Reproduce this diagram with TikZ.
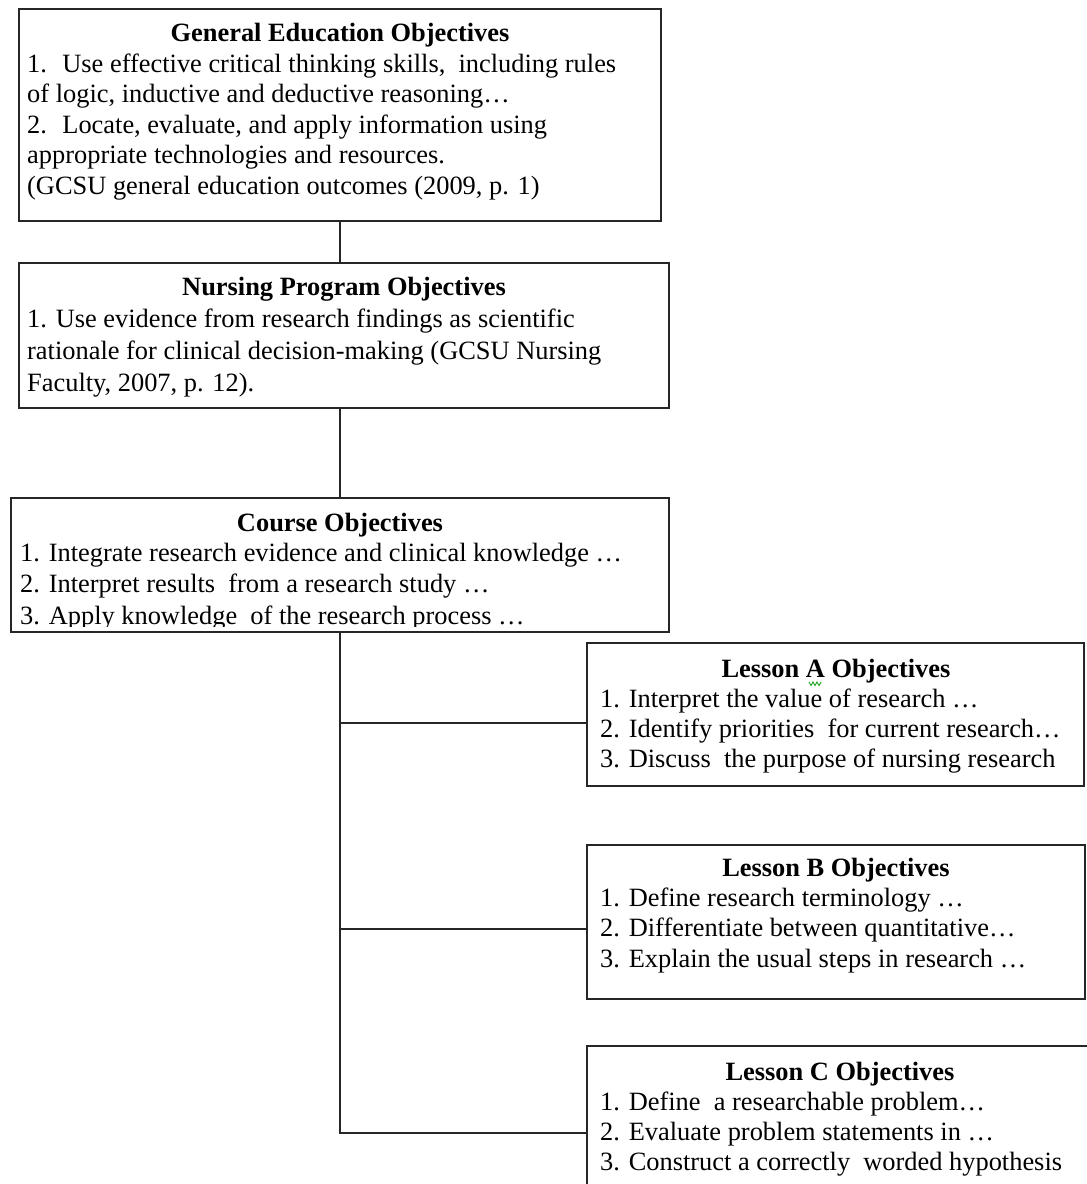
\documentclass[tikz,border=0pt]{standalone}
\usepackage{fontspec}
\setmainfont{Liberation Serif}
\begin{document}
\begin{tikzpicture}[x=1pt,y=-1pt,
  font=\fontsize{26.4pt}{31pt}\selectfont,
  box/.style={draw=black!85, line width=1.6pt, rectangle, inner sep=0pt, outer sep=0pt, anchor=north west, fill=none},
  ttl/.style={anchor=base, inner sep=0pt, font=\fontsize{26.4pt}{31pt}\selectfont\bfseries},
  txt/.style={anchor=base west, inner sep=0pt},
  conn/.style={draw=black!85, line width=1.6pt}]
\useasboundingbox (0,0) rectangle (1087,1184);
\clip (0,0) rectangle (1087,1184);

% boxes
\node[box, minimum width=642pt, minimum height=212pt] (ge) at (19,9) {};
\node[box, minimum width=650pt, minimum height=145pt] (np) at (19,263) {};
\node[box, minimum width=658pt, minimum height=134pt] (co) at (11,498) {};
\node[box, minimum width=497pt, minimum height=143pt] (la) at (587,643) {};
\node[box, minimum width=498pt, minimum height=154pt] (lb) at (587,845) {};
\node[box, minimum width=540pt, minimum height=200pt] (lc) at (587,1046) {};

% General Education
\node[ttl] (ge-t) at (340,41) {General Education Objectives};
\node[txt] (ge-1) at (27,72) {1.~ Use effective critical thinking skills,~ including rules};
\node[txt] (ge-2) at (27,102.5) {of logic, inductive and deductive reasoning…};
\node[txt] (ge-3) at (27,133) {2.~ Locate, evaluate, and apply information using};
\node[txt] (ge-4) at (27,163.5) {appropriate technologies and resources.};
\node[txt] (ge-5) at (27,194) {(GCSU general education outcomes (2009, p. 1)};

% Nursing Program
\node[ttl] (np-t) at (344,295) {Nursing Program Objectives};
\node[txt] (np-1) at (27,327) {1. Use evidence from research findings as scientific};
\node[txt] (np-2) at (27,359) {rationale for clinical decision-making (GCSU Nursing};
\node[txt] (np-3) at (27,391) {Faculty, 2007, p. 12).};

% Course
\node[ttl] (co-t) at (340,531) {Course Objectives};
\node[txt] (co-1) at (20,561) {1. Integrate research evidence and clinical knowledge …};
\node[txt] (co-2) at (20,592) {2. Interpret results~ from a research study …};
\begin{scope}
  \clip (11,498) rectangle (669,626);
  \node[txt] (co-3) at (20,624) {3. Apply knowledge~ of the research process …};
\end{scope}

% Lesson A
\node[ttl] (la-t) at (836,677) {Lesson A Objectives};
\node[txt] (la-1) at (600,707) {1. Interpret the value of research …};
\node[txt] (la-2) at (600,737) {2. Identify priorities~ for current research…};
\node[txt] (la-3) at (600,767) {3. Discuss~ the purpose of nursing research};
\draw[green!60!black, line width=0.8pt] (809,682) -- (811,685.5) -- (813,682) -- (815,685.5) -- (817,682) -- (819,685.5) -- (821,682);

% Lesson B
\node[ttl] (lb-t) at (836,876) {Lesson B Objectives};
\node[txt] (lb-1) at (600,906) {1. Define research terminology …};
\node[txt] (lb-2) at (600,936) {2. Differentiate between quantitative…};
\node[txt] (lb-3) at (600,967) {3. Explain the usual steps in research …};

% Lesson C
\node[ttl] (lc-t) at (840,1080) {Lesson C Objectives};
\node[txt] (lc-1) at (600,1110) {1. Define~ a researchable problem…};
\node[txt] (lc-2) at (600,1140) {2. Evaluate problem statements in …};
\node[txt] (lc-3) at (600,1170) {3. Construct a correctly~ worded hypothesis};

% connectors
\coordinate (hA) at (0,723);
\coordinate (hB) at (0,929);
\coordinate (hC) at (0,1133);
\draw[conn] (ge.south) -- (ge.south |- np.north);
\draw[conn] (ge.south |- np.south) -- (ge.south |- co.north);
\draw[conn] (co.south) -- (co.south |- hC) -- (lc.west |- hC);
\draw[conn] (co.south |- hA) -- (la.west |- hA);
\draw[conn] (co.south |- hB) -- (lb.west |- hB);
\end{tikzpicture}
\end{document}
